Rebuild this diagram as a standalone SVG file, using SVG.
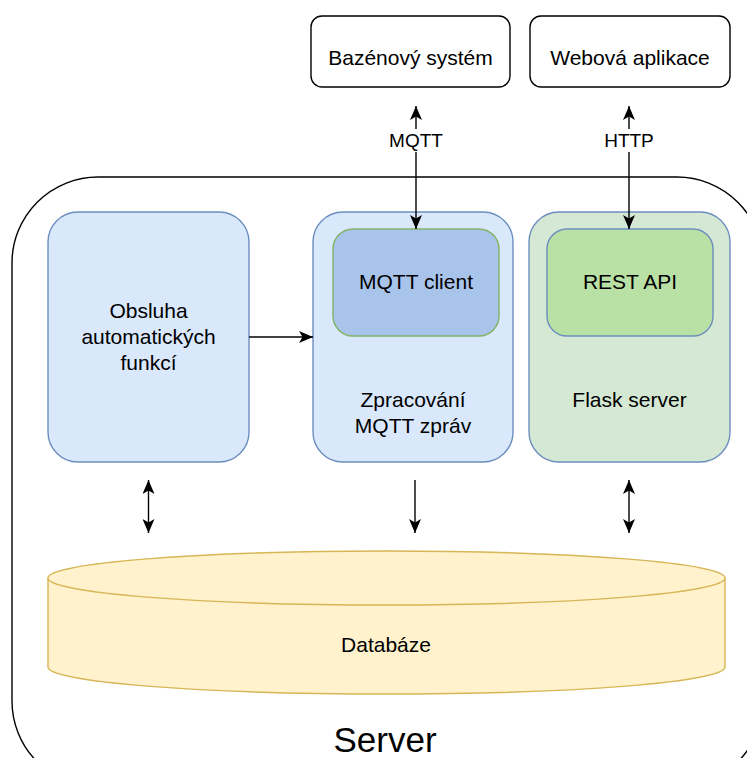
<svg xmlns="http://www.w3.org/2000/svg" width="747" height="758" viewBox="0 0 747 758">
<style>
text{font-family:"Liberation Sans",Arial,sans-serif;fill:#000;text-anchor:middle}
.t21{font-size:21px}
.t19{font-size:19px}
.conn{stroke:#000;stroke-width:1.4;fill:none}
.blue{fill:#dae8fc;stroke:#6c8ebf;stroke-width:1.4}
.green{fill:#d5e8d4;stroke:#6c8ebf;stroke-width:1.4}
.ext{fill:#fff;stroke:#000;stroke-width:1.4}
</style>
<defs>
<marker id="ah" viewBox="0 0 14 12" refX="14" refY="6" markerWidth="14" markerHeight="12" markerUnits="userSpaceOnUse" orient="auto-start-reverse">
<path d="M0,0 L14,6 L0,12 L3.5,6 Z" fill="#000"/>
</marker>
</defs>
<g id="server">
<rect x="12" y="177" width="751" height="610" rx="86" ry="86" fill="#fff" stroke="#000" stroke-width="1.4"/>
<text class="t21" x="385" y="752" style="font-size:35px">Server</text>
</g>
<g id="bazenovy-system">
<rect class="ext" x="311" y="16" width="199" height="71" rx="11"/>
<text class="t21" x="410.5" y="65">Bazénový systém</text>
</g>
<g id="webova-aplikace">
<rect class="ext" x="530" y="16" width="200" height="71" rx="11"/>
<text class="t21" x="630" y="65">Webová aplikace</text>
</g>
<g id="obsluha">
<rect class="blue" x="48" y="212" width="201" height="250" rx="30"/>
<text class="t21" x="148.5" y="318">Obsluha</text>
<text class="t21" x="148.5" y="344">automatických</text>
<text class="t21" x="148.5" y="370">funkcí</text>
</g>
<g id="zpracovani">
<rect class="blue" x="313" y="212" width="200" height="250" rx="30"/>
<text class="t21" x="413" y="407">Zpracování</text>
<text class="t21" x="413" y="433">MQTT zpráv</text>
</g>
<g id="mqtt-client">
<rect x="333" y="229" width="166" height="107" rx="20" fill="#a9c4eb" stroke="#82b366" stroke-width="1.4"/>
<text class="t21" x="416" y="289">MQTT client</text>
</g>
<g id="flask-server">
<rect class="green" x="529" y="212" width="201" height="250" rx="30"/>
<text class="t21" x="629.5" y="407">Flask server</text>
</g>
<g id="rest-api">
<rect x="547" y="229" width="166" height="107" rx="20" fill="#b9e0a5" stroke="#6c8ebf" stroke-width="1.4"/>
<text class="t21" x="630" y="289">REST API</text>
</g>
<g id="databaze">
<path d="M48,578 L48,667 A338.5,27 0 0 0 725,667 L725,578" fill="#fff2cc" stroke="#d6b656" stroke-width="1.4"/>
<ellipse cx="386.5" cy="578" rx="338.5" ry="27" fill="#fff2cc" stroke="#d6b656" stroke-width="1.4"/>
<text class="t21" x="386" y="652">Databáze</text>
</g>
<g id="connectors">
<line class="conn" x1="416" y1="106" x2="416" y2="229" marker-start="url(#ah)" marker-end="url(#ah)"/>
<rect x="386" y="129" width="60" height="23" fill="#fff"/>
<text class="t19" x="416" y="147">MQTT</text>
<line class="conn" x1="629" y1="106" x2="629" y2="229" marker-start="url(#ah)" marker-end="url(#ah)"/>
<rect x="600" y="129" width="58" height="23" fill="#fff"/>
<text class="t19" x="629" y="147">HTTP</text>
<line class="conn" x1="249" y1="337" x2="313" y2="337" marker-end="url(#ah)"/>
<line class="conn" x1="148.5" y1="480" x2="148.5" y2="533" marker-start="url(#ah)" marker-end="url(#ah)"/>
<line class="conn" x1="415" y1="480" x2="415" y2="533" marker-end="url(#ah)"/>
<line class="conn" x1="629" y1="480" x2="629" y2="533" marker-start="url(#ah)" marker-end="url(#ah)"/>
</g>
</svg>
